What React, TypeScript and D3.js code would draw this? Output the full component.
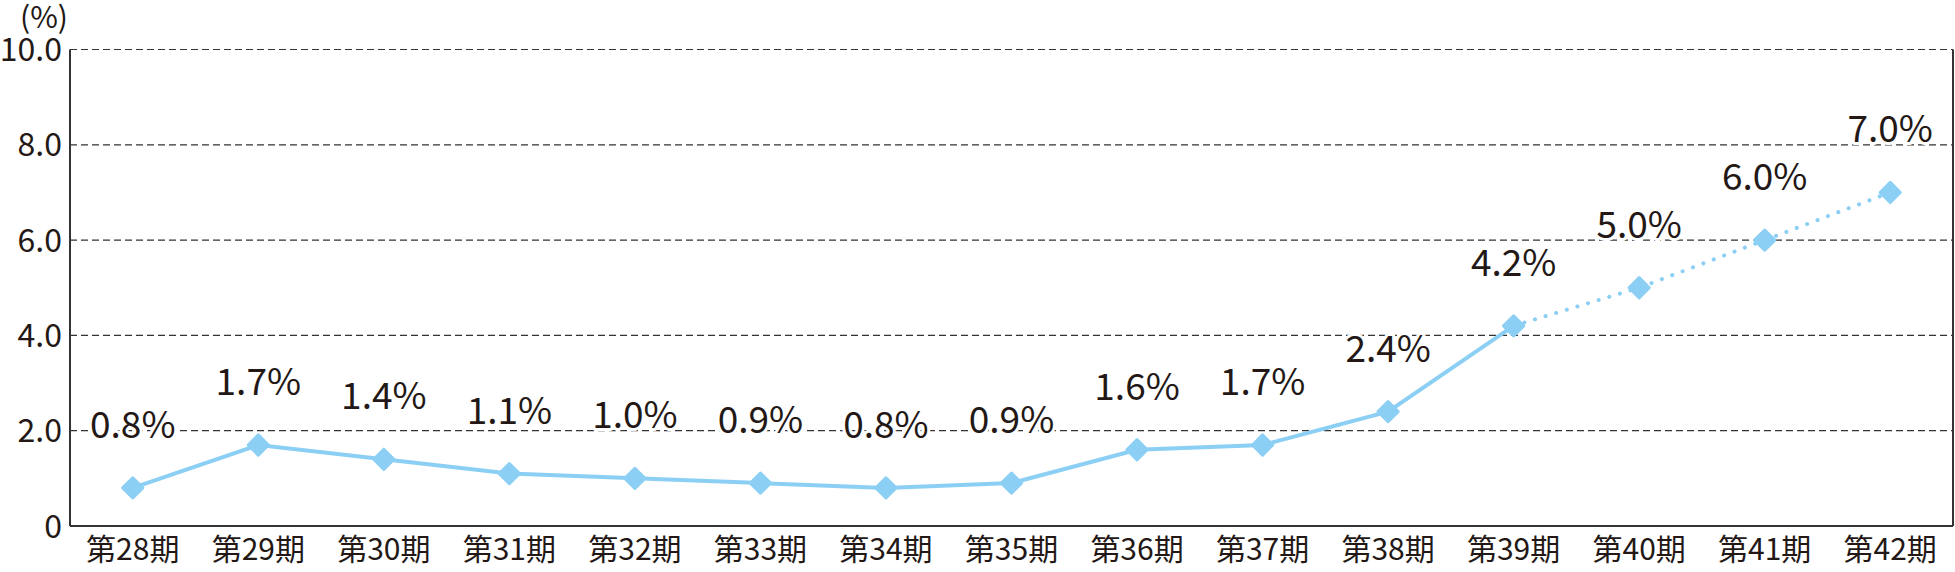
import React from "react";
import * as d3 from "d3";

const categories = ["第28期","第29期","第30期","第31期","第32期","第33期","第34期","第35期","第36期","第37期","第38期","第39期","第40期","第41期","第42期"];
const values = [0.8, 1.7, 1.4, 1.1, 1.0, 0.9, 0.8, 0.9, 1.6, 1.7, 2.4, 4.2, 5.0, 6.0, 7.0];
const labels = ["0.8%","1.7%","1.4%","1.1%","1.0%","0.9%","0.8%","0.9%","1.6%","1.7%","2.4%","4.2%","5.0%","6.0%","7.0%"];
const yTicks = [0, 2, 4, 6, 8, 10];
const yTickLabels = ["0","2.0","4.0","6.0","8.0","10.0"];
const solidEndIndex = 11; // 第39期

const W = 1955, H = 572;
const FONT = "'Noto Sans CJK JP', 'Noto Sans', sans-serif";
const TEXT = "#231815";
const BLUE = "#8ccff4";

export default function App() {
  const left = 70, right = 1953, top = 49.5, bottom = 526;
  const x = d3.scaleBand<string>().domain(categories).range([left, right]).padding(0);
  const y = d3.scaleLinear().domain([0, 10]).range([bottom, top]);
  const cx = (i: number) => (x(categories[i]) as number) + x.bandwidth() / 2;
  const pts = values.map((v, i) => ({ v, i }));
  const solidPts = pts.filter((d) => d.i <= solidEndIndex);
  const dotPts = pts.filter((d) => d.i >= solidEndIndex);
  const l2 = d3.line<{ v: number; i: number }>().x((d) => cx(d.i)).y((d) => y(d.v));
  const diamond = d3.symbol().type(d3.symbolDiamond2).size(260)();

  return (
    <svg width={W} height={H} style={{ position: "absolute", left: 0, top: 0, background: "#fff" }} fontFamily={FONT}>
      {yTicks.filter((t) => t > 0).map((t) => (
        <line key={t} x1={left} x2={right} y1={y(t)} y2={y(t)} stroke="#333" strokeWidth={1.2} strokeDasharray="7 4" />
      ))}
      <line x1={left} x2={left} y1={top} y2={bottom} stroke="#333" strokeWidth={2} />
      <line x1={right} x2={right} y1={top} y2={bottom} stroke="#333" strokeWidth={2} />
      <line x1={left} x2={right} y1={bottom} y2={bottom} stroke="#333" strokeWidth={2} />
      {yTicks.map((t, i) => (
        <text key={t} x={62} y={y(t)} dy="0.36em" textAnchor="end" fontSize={32} fill={TEXT}>{yTickLabels[i]}</text>
      ))}
      <text x={44} y={28} textAnchor="middle" fontSize={30} fill={TEXT}>(%)</text>
      {categories.map((c, i) => (
        <text key={c} x={cx(i)} y={560} textAnchor="middle" fontSize={30} fill={TEXT}>{c}</text>
      ))}
      <path d={l2(solidPts) as string} fill="none" stroke={BLUE} strokeWidth={4} />
      <path d={l2(dotPts) as string} fill="none" stroke={BLUE} strokeWidth={4} strokeDasharray="0.1 11" strokeLinecap="round" />
      {values.map((v, i) => (
        <path key={i} d={diamond as string} transform={`translate(${cx(i)},${y(v)})`} fill={BLUE} stroke={BLUE} strokeWidth={3} strokeLinejoin="round" />
      ))}
      {values.map((v, i) => (
        <text key={i} x={cx(i)} y={y(v) - 50} textAnchor="middle" fontSize={37} fill={TEXT}
          stroke="#fff" strokeWidth={6} paintOrder="stroke" strokeLinejoin="round">{labels[i]}</text>
      ))}
    </svg>
  );
}
